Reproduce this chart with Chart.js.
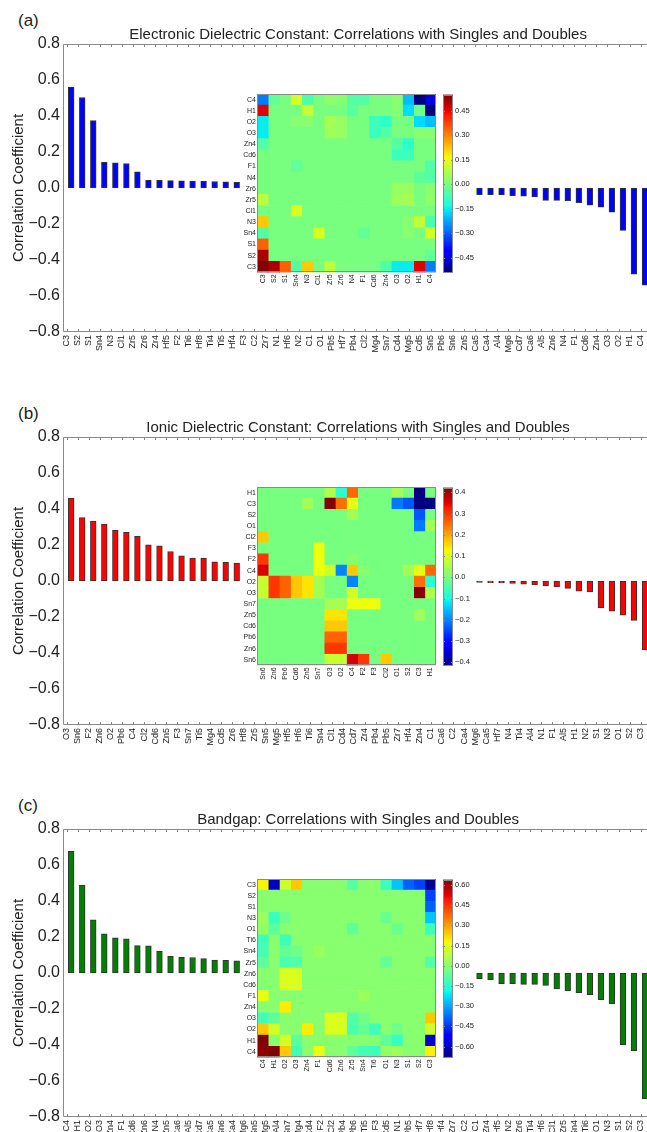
<!DOCTYPE html>
<html>
<head>
<meta charset="utf-8">
<script src="https://cdn.jsdelivr.net/npm/chart.js@4.4.1/dist/chart.umd.min.js"></script>
<style>
  html, body { margin: 0; padding: 0; background: #fff; overflow: hidden; width: 647px; height: 1132px; position: relative; }
  canvas { position: absolute; }
  .tag { position: absolute; left: 18px; font-size: 17px; color: #222;
         font-family: 'Liberation Sans', Arial, sans-serif; }
  .inset { position: absolute; background: #fff; }
</style>
</head>
<body>
<script>
// ---- bar data (sorted correlations) ----
const labelsA = ['C3','S2','S1','Sn4','N3','Cl1','Zr5','Zr6','Zr4','Hf5','F2','Ti6','Hf8','Ti4','Ti5','Hf4','F3','C2','Zr7','N1','Hf6','N2','C1','O1','Pb5','Hf7','Pb4','Cl2','Mg4','Sn7','Cd4','Mg5','Cd5','Sn5','Pb6','Sn6','Zn5','Ca5','Ca4','Al4','Mg6','Cd7','Ca6','Al5','Zn6','N4','F1','Cd6','Zn4','O3','O2','H1','C4'];
const valuesA = [0.56,0.503,0.375,0.143,0.14,0.136,0.09,0.042,0.042,0.041,0.04,0.039,0.037,0.036,0.034,0.031,0.028,0.025,0.022,0.02,0.017,0.015,0.012,0.01,0.008,0.006,0.004,0.002,0.001,-0.002,-0.004,-0.007,-0.011,-0.016,-0.021,-0.027,-0.032,-0.037,-0.037,-0.038,-0.043,-0.045,-0.049,-0.069,-0.069,-0.07,-0.082,-0.095,-0.106,-0.134,-0.235,-0.479,-0.54];

const labelsB = ['O3','Sn6','F2','Zn6','O2','Pb6','C4','Cl2','Cd6','Zn5','F3','Sn7','Ti5','Mg4','Cd5','Zr6','Hf8','Zr5','Sn5','Mg5','Hf5','Hf6','Ti6','Sn4','Cl1','Cd4','Cd7','Zr4','Pb4','Pb5','Zr7','Hf4','Zn4','C1','Ca6','C2','Ca4','Mg6','Ca5','Hf7','N4','Ti4','Al4','N1','F1','Al5','H1','N2','S1','N3','O1','S2','C3'];
const valuesB = [0.46,0.352,0.333,0.316,0.281,0.27,0.248,0.201,0.195,0.164,0.14,0.128,0.127,0.106,0.104,0.099,0.094,0.088,0.082,0.076,0.07,0.064,0.058,0.052,0.046,0.041,0.036,0.031,0.026,0.021,0.017,0.013,0.009,0.005,0.002,-0.002,-0.005,-0.008,-0.009,-0.011,-0.013,-0.018,-0.022,-0.026,-0.033,-0.041,-0.056,-0.06,-0.149,-0.167,-0.19,-0.219,-0.383];

const labelsC = ['C4','H1','O2','O3','Zn4','F1','Cd6','Zn6','N4','Zn5','Ca6','Al5','Cd7','Ca5','Sn6','Ca4','Mg6','Sn5','Mg5','Al4','Sn7','Mg4','Cd4','F2','Cl2','Pb4','Pb6','Ti5','F3','Cd5','N1','Pb5','Hf7','Hf8','Hf4','Zr7','C2','C1','Zr4','Hf5','N2','Zr6','Ti4','Hf6','Cl1','Zr5','Sn4','Ti6','O1','N3','S1','S2','C3'];
const valuesC = [0.676,0.489,0.296,0.217,0.196,0.19,0.152,0.151,0.122,0.093,0.087,0.086,0.08,0.072,0.07,0.068,0.064,0.059,0.054,0.049,0.044,0.039,0.034,0.029,0.024,0.019,0.014,0.01,0.006,0.003,0.001,-0.003,-0.007,-0.011,-0.016,-0.021,-0.026,-0.031,-0.037,-0.059,-0.059,-0.063,-0.063,-0.069,-0.089,-0.1,-0.109,-0.12,-0.148,-0.172,-0.4,-0.431,-0.7];

const yTicks = [-0.8, -0.6, -0.4, -0.2, 0, 0.2, 0.4, 0.6, 0.8];

// ---- inset heatmaps: symmetric pair correlations, unlisted pairs ~ 0 ----
const heatLabelsA = ['C3','S2','S1','Sn4','N3','Cl1','Zr5','Zr6','N4','F1','Cd6','Zn4','O3','O2','H1','C4'];
const heatPairsA = [
  ['C3','C3',0.55],['C3','S2',0.51],['C3','S1',0.34],['C3','Sn4',-0.05],['C3','N3',0.22],['C3','Zr5',0.09],
  ['C3','Zn4',-0.05],['C3','O3',-0.15],['C3','O2',-0.15],['C3','H1',0.46],['C3','C4',-0.27],
  ['S2','C4',-0.03],
  ['Sn4','Cl1',0.13],['Sn4','F1',-0.03],['Sn4','O2',0.02],['Sn4','C4',0.12],
  ['N3','O2',0.02],['N3','H1',0.1],['N3','C4',-0.06],
  ['Zr5','O3',0.05],['Zr5','O2',0.06],['Zr5','C4',0.03],
  ['Zr6','O3',0.04],['Zr6','O2',0.04],['Zr6','C4',0.02],
  ['N4','H1',-0.04],['N4','C4',-0.05],
  ['F1','C4',-0.05],
  ['Cd6','O3',-0.08],['Cd6','O2',-0.08],
  ['Zn4','O3',-0.05],['Zn4','O2',-0.1],
  ['O3','H1',0.02],['O3','C4',0.02],
  ['O2','H1',-0.17],['O2','C4',-0.2],
  ['H1','H1',-0.01],['H1','C4',-0.54],['C4','C4',-0.44]
];
const rangeA = [-0.54, 0.55];
const cbTicksA = [0.45, 0.30, 0.15, 0, -0.15, -0.30, -0.45];

const heatLabelsB = ['Sn6','Zn6','Pb6','Cd6','Zn5','Sn7','O3','O2','C4','F2','F3','Cl2','O1','S2','C3','H1'];
const heatPairsB = [
  ['H1','O3',0.055],['H1','O2',-0.08],['H1','C4',0.255],['H1','O1',0.045],['H1','C3',-0.415],
  ['C3','Zn5',0.04],['C3','O3',0.42],['C3','O2',0.25],['C3','C4',0.11],['C3','O1',-0.21],['C3','S2',-0.24],['C3','C3',-0.415],
  ['S2','C4',0.04],
  ['Cl2','Sn6',0.17],
  ['F3','Sn7',0.12],
  ['F2','Sn6',0.3],['F2','Sn7',0.12],['F2','C4',0.015],
  ['C4','Sn6',0.36],['C4','Sn7',0.12],['C4','O3',0.09],['C4','O2',-0.2],['C4','C4',0.17],
  ['O2','Sn6',0.08],['O2','Zn6',0.3],['O2','Pb6',0.26],['O2','Cd6',0.17],['O2','Zn5',0.145],['O2','Sn7',0.045],
  ['O3','Sn6',0.08],['O3','Zn6',0.3],['O3','Pb6',0.26],['O3','Cd6',0.17],['O3','Zn5',0.145],['O3','Sn7',0.045]
];
const rangeB = [-0.415, 0.423];
const cbTicksB = [0.4, 0.3, 0.2, 0.1, 0, -0.1, -0.2, -0.3, -0.4];

const heatLabelsC = ['C4','H1','O2','O3','Zn4','F1','Cd6','Zn6','Zr5','Sn4','Ti6','O1','N3','S1','S2','C3'];
const heatPairsC = [
  ['C4','C4',0.62],['C4','H1',0.64],['C4','O2',0.24],['C4','O3',-0.12],['C4','F1',0.16],['C4','Zr5',-0.07],
  ['C4','Sn4',-0.11],['C4','Ti6',-0.12],['C4','O1',0.02],['C4','N3',0.03],['C4','C3',0.18],
  ['H1','O2',0.12],['H1','O3',-0.07],['H1','O1',-0.07],['H1','N3',-0.13],['H1','C3',-0.6],
  ['O2','Zn4',0.19],['O2','Cd6',0.13],['O2','Zn6',0.13],['O2','Zr5',-0.1],['O2','Sn4',-0.06],['O2','Ti6',-0.12],
  ['O2','N3',-0.04],['O2','C3',0.11],
  ['O3','Cd6',0.13],['O3','Zn6',0.13],['O3','Zr5',-0.09],['O3','Sn4',-0.04],['O3','C3',0.24],
  ['F1','Sn4',0.03],
  ['Zr5','O1',-0.06],['Zr5','C3',-0.08],
  ['O1','N3',-0.05],['O1','C3',-0.12],
  ['N3','C3',-0.26],
  ['S1','C3',-0.39],['S2','C3',-0.43],['C3','C3',-0.66]
];
const rangeC = [-0.68, 0.64];
const cbTicksC = [0.60, 0.45, 0.30, 0.15, 0, -0.15, -0.30, -0.45, -0.60];

const FONT = "'Liberation Sans', Arial, sans-serif";
Chart.defaults.font.family = FONT;
Chart.defaults.color = '#222';
Chart.defaults.animation = false;
Chart.defaults.responsive = false;
Chart.defaults.events = [];
Chart.defaults.plugins.legend.display = false;
Chart.defaults.plugins.tooltip.enabled = false;

const TICK_SHIFT = -0.4;   // labels sit a bit left of the bars in the original

// matplotlib "jet"
const JET = {
  r: [[0, 0], [0.35, 0], [0.66, 1], [0.89, 1], [1, 0.5]],
  g: [[0, 0], [0.125, 0], [0.375, 1], [0.64, 1], [0.91, 0], [1, 0]],
  b: [[0, 0.5], [0.11, 1], [0.34, 1], [0.65, 0], [1, 0]]
};
function interp(pts, t) {
  for (let i = 1; i < pts.length; i++) {
    if (t <= pts[i][0]) {
      const [x0, y0] = pts[i - 1], [x1, y1] = pts[i];
      return y0 + (y1 - y0) * (t - x0) / (x1 - x0);
    }
  }
  return pts[pts.length - 1][1];
}
function jet(t) {
  t = Math.max(0, Math.min(1, t));
  const c = k => Math.round(255 * interp(JET[k], t));
  return `rgb(${c('r')},${c('g')},${c('b')})`;
}
const JET_STOPS = [0, 0.11, 0.125, 0.34, 0.35, 0.375, 0.64, 0.65, 0.66, 0.89, 0.91, 1];

function pairValue(pairs, a, b) {
  const p = pairs.find(q => (q[0] === a && q[1] === b) || (q[0] === b && q[1] === a));
  return p ? p[2] : 0;
}
function fmt(v, digits) {
  const s = Math.abs(v).toFixed(digits);
  return (v < -1e-9 ? '\u2212' : '') + s;
}

const framePlugin = {
  id: 'frame',
  afterDatasetsDraw(chart, args, opts) {
    const { ctx, chartArea: a } = chart;
    ctx.save();
    ctx.strokeStyle = opts.color || '#8a8a8a';
    ctx.lineWidth = 1;
    ctx.beginPath();
    ctx.rect(Math.round(a.left) + 0.5, Math.round(a.top) + 0.5, Math.round(a.right - a.left) - 1, Math.round(a.bottom - a.top) - 1);
    if (opts.minor) {
      const xs = chart.scales.x;
      xs.ticks.forEach(t => {
        const px = Math.round(xs.getPixelForValue(t.value)) + 0.5;
        ctx.moveTo(px, a.top); ctx.lineTo(px, a.top + 3);
        ctx.moveTo(px, a.bottom); ctx.lineTo(px, a.bottom - 3);
      });
    }
    if (opts.cbTicks) {
      const ys = chart.scales.y;
      ys.ticks.forEach(t => {
        const py = Math.round(ys.getPixelForValue(t.value)) + 0.5;
        ctx.moveTo(a.right - 2, py); ctx.lineTo(a.right, py);
        ctx.moveTo(a.left, py); ctx.lineTo(a.left + 2, py);
      });
    }
    ctx.stroke();
    ctx.restore();
  }
};

function makeCanvas(parent, left, top, w, h) {
  const c = document.createElement('canvas');
  c.width = w; c.height = h;
  c.style.cssText = `left:${left}px;top:${top}px;width:${w}px;height:${h}px`;
  parent.appendChild(c);
  return c;
}

function barChart(p) {
  const cv = makeCanvas(document.body, 0, p.top - 44, 660, 380);
  new Chart(cv, {
    type: 'bar',
    data: {
      datasets: [{
        data: p.values.map((v, i) => ({ x: i, y: v })),
        backgroundColor: p.color,
        borderColor: '#333',
        borderWidth: 1,
        borderSkipped: false,
        barThickness: 5.7
      }]
    },
    options: {
      layout: { padding: { left: 0, right: 6.8, top: 0, bottom: 0 } },
      plugins: {
        title: { display: true, text: p.title, color: '#222', fullSize: false,
                 font: { size: 15, weight: 'normal' }, padding: { top: 26, bottom: 0 } },
        frame: { minor: true }
      },
      scales: {
        x: {
          type: 'linear', offset: false, min: -0.743, max: p.labels.length - 1 + 0.743,
          grid: { display: false, drawTicks: false }, border: { display: false },
          afterBuildTicks: s => { s.ticks = p.labels.map((_, i) => ({ value: i + TICK_SHIFT })); },
          ticks: { autoSkip: false, minRotation: 90, maxRotation: 90, padding: 3, font: { size: 9 },
                   callback: v => p.labels[Math.round(v - TICK_SHIFT)] },
          afterFit: s => { s.height = 48; }
        },
        y: {
          min: -0.8, max: 0.8,
          afterBuildTicks: s => { s.ticks = yTicks.map(v => ({ value: v })); },
          ticks: { font: { size: 16 }, padding: 3, callback: v => fmt(v, 1) },
          grid: { display: false, drawTicks: false }, border: { display: false },
          title: { display: true, text: 'Correlation Coefficient', color: '#222', font: { size: 15 }, padding: { top: 10, bottom: 0 } },
          afterFit: s => { s.width = 63; }
        }
      }
    },
    plugins: [framePlugin]
  });
}

function heatInset(p) {
  const h = p.heat;
  const box = document.createElement('div');
  box.className = 'inset';
  box.style.cssText = `left:241px;top:${p.top + 44}px;width:235px;height:205px`;
  document.body.appendChild(box);

  const norm = v => (v - h.range[0]) / (h.range[1] - h.range[0]);
  const rows = h.labels.slice().reverse();        // top to bottom
  const datasets = h.labels.map(col => ({
    data: rows.map(() => 1),
    backgroundColor: rows.map(r => jet(norm(pairValue(h.pairs, r, col)))),
    borderWidth: 0, barPercentage: 1, categoryPercentage: 1
  }));
  new Chart(makeCanvas(box, 0, 0, 200, 205), {
    type: 'bar',
    data: { labels: rows, datasets },
    options: {
      indexAxis: 'y',
      layout: { padding: { top: 6, right: 2, left: 0, bottom: 0 } },
      plugins: { frame: {} },
      scales: {
        x: { type: 'linear', stacked: true, min: 0, max: h.labels.length, display: false },
        y: { stacked: true, grid: { display: false, drawTicks: false }, border: { display: false },
             ticks: { font: { size: 7 }, padding: 1, autoSkip: false },
             afterFit: s => { s.width = 16; } },
        xl: { type: 'category', labels: h.labels, position: 'bottom', offset: true,
              grid: { display: false, drawTicks: false }, border: { display: false },
              ticks: { font: { size: 7 }, minRotation: 90, maxRotation: 90, padding: 2, autoSkip: false },
              afterFit: s => { s.height = 205 - 6 - 178.4; } }
      }
    },
    plugins: [framePlugin]
  });

  const cb = new Chart(makeCanvas(box, 202, 0, 40, 205), {
    type: 'bar',
    data: {
      labels: [''],
      datasets: [{
        data: [[h.range[0], h.range[1]]],
        borderWidth: 0, barPercentage: 1, categoryPercentage: 1,
        backgroundColor: ctx => {
          const a = ctx.chart.chartArea;
          if (!a || !isFinite(a.top) || !isFinite(a.bottom) || a.bottom <= a.top) return '#7bff7b';
          const g = ctx.chart.ctx.createLinearGradient(0, a.bottom, 0, a.top);
          JET_STOPS.forEach(t => g.addColorStop(t, jet(t)));
          return g;
        }
      }]
    },
    options: {
      layout: { padding: { top: 6, right: 0, left: 0, bottom: 205 - 6 - 178.4 } },
      plugins: { frame: { cbTicks: true } },
      scales: {
        x: { display: false },
        y: { position: 'right', min: h.range[0], max: h.range[1],
             afterBuildTicks: s => { s.ticks = h.ticks.map(v => ({ value: v })); },
             ticks: { font: { size: 7.5 }, padding: 2, callback: v => fmt(v, h.digits) },
             grid: { display: false, drawTicks: false }, border: { display: false },
             afterFit: s => { s.width = 30; } }
      }
    },
    plugins: [framePlugin]
  });
  cb.update();
}

const panels = [
  { tag: '(a)', top: 44, title: 'Electronic Dielectric Constant: Correlations with Singles and Doubles',
    labels: labelsA, values: valuesA, color: '#0000ff',
    heat: { labels: heatLabelsA, pairs: heatPairsA, range: rangeA, ticks: cbTicksA, digits: 2 } },
  { tag: '(b)', top: 437, title: 'Ionic Dielectric Constant: Correlations with Singles and Doubles',
    labels: labelsB, values: valuesB, color: '#ff0000',
    heat: { labels: heatLabelsB, pairs: heatPairsB, range: rangeB, ticks: cbTicksB, digits: 1 } },
  { tag: '(c)', top: 829, title: 'Bandgap: Correlations with Singles and Doubles',
    labels: labelsC, values: valuesC, color: '#007f00',
    heat: { labels: heatLabelsC, pairs: heatPairsC, range: rangeC, ticks: cbTicksC, digits: 2 } }
];

panels.forEach(p => {
  const t = document.createElement('div');
  t.className = 'tag';
  t.style.top = (p.top - 33) + 'px';
  t.textContent = p.tag;
  document.body.appendChild(t);
  barChart(p);
  heatInset(p);
});
</script>
</body>
</html>
